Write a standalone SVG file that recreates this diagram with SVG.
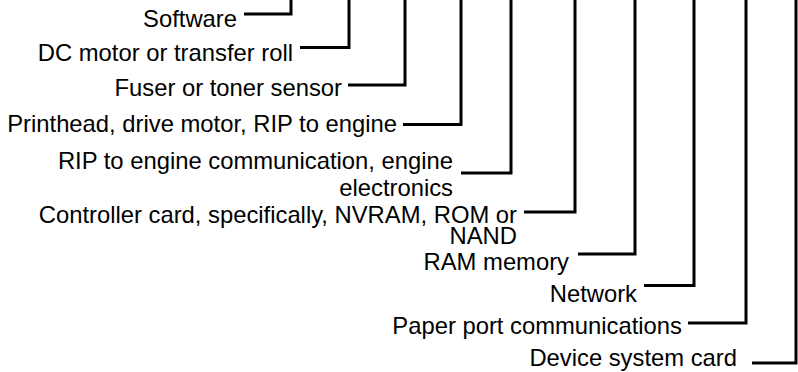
<svg xmlns="http://www.w3.org/2000/svg" width="798" height="372" viewBox="0 0 798 372">
<style>
text{font-family:"Liberation Sans",Arial,sans-serif;font-size:23.8px;fill:#000;text-anchor:end}
.c{fill:none;stroke:#000;stroke-width:3;stroke-linejoin:miter}
</style>
<rect width="798" height="372" fill="#fff"/>
<g id="connectors">
<polyline class="c" points="244,14 291,14 291,-2"/>
<polyline class="c" points="300,47.5 349,47.5 349,-2"/>
<polyline class="c" points="348,85 405,85 405,-2"/>
<polyline class="c" points="403,124.5 461,124.5 461,-2"/>
<polyline class="c" points="461,173 511,173 511,-2"/>
<polyline class="c" points="524,212 575,212 575,-2"/>
<polyline class="c" points="578,254 635,254 635,-2"/>
<polyline class="c" points="644,285.5 694,285.5 694,-2"/>
<polyline class="c" points="688,323 746,323 746,-2"/>
<polyline class="c" points="752,363 796,363 796,-2"/>
</g>
<g id="n1"><text x="237" y="27">Software</text></g>
<g id="n2"><text x="293" y="61">DC motor or transfer roll</text></g>
<g id="n3"><text x="342" y="96">Fuser or toner sensor</text></g>
<g id="n4"><text x="397" y="131.5">Printhead, drive motor, RIP to engine</text></g>
<g id="n5"><text x="453" y="169">RIP to engine communication, engine</text><text x="453" y="196">electronics</text></g>
<g id="n6"><text x="517" y="222.5">Controller card, specifically, NVRAM, ROM or</text><text x="517" y="244">NAND</text></g>
<g id="n7"><text x="569" y="270">RAM memory</text></g>
<g id="n8"><text x="637" y="302">Network</text></g>
<g id="n9"><text x="682" y="334">Paper port communications</text></g>
<g id="n10"><text x="737" y="366">Device system card</text></g>
</svg>
